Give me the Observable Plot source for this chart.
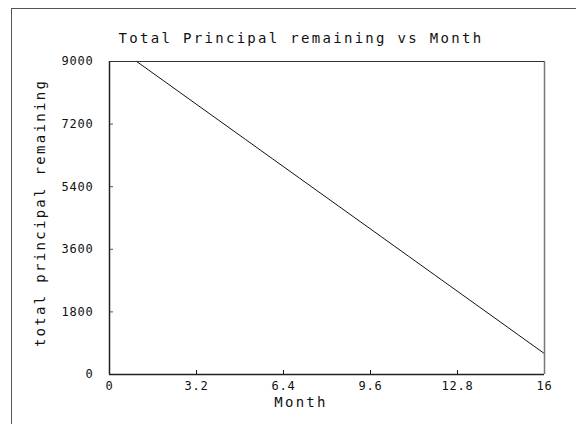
<!DOCTYPE html>
<html>
<head>
<meta charset="utf-8">
<script src="https://cdn.jsdelivr.net/npm/d3@7"></script>
<script src="https://cdn.jsdelivr.net/npm/@observablehq/plot@0.6"></script>
<style>
  html, body { margin: 0; padding: 0; background: #fff; }
  #wrap { position: relative; width: 576px; height: 424px; overflow: hidden; }
  #border { position: absolute; left: 11px; top: 8px; right: -2px; bottom: -2px;
            border-left: 1px solid #555; border-top: 1px solid #555; pointer-events: none; }
</style>
</head>
<body>
<div id="wrap"><div id="border"></div></div>
<script>
const months = [1, 2, 3, 4, 5, 6, 7, 8, 9, 10, 11, 12, 13, 14, 15, 16];
const principal = [9000, 8440, 7880, 7320, 6760, 6200, 5640, 5080, 4520, 3960, 3400, 2840, 2280, 1720, 1160, 600];
const xTicks = [0, 3.2, 6.4, 9.6, 12.8, 16];
const xTickLabels = ["0", "3.2", "6.4", "9.6", "12.8", "16"];
const yTicks = [0, 1800, 3600, 5400, 7200, 9000];
const yTickLabels = ["0", "1800", "3600", "5400", "7200", "9000"];
const title = "Total Principal remaining vs Month";
const xLabel = "Month";
const yLabel = "total principal remaining";

const data = months.map((m, i) => ({month: m, value: principal[i]}));
const xDomain = [0, 16];
const yDomain = [0, 9000];

const W = 576, H = 424;
const mL = 109, mR = 32, mT = 61, mB = 50;
const plotW = W - mL - mR, plotH = H - mT - mB;
const font = "DejaVu Sans Mono";

const chart = Plot.plot({
  width: W, height: H,
  marginLeft: mL, marginRight: mR, marginTop: mT, marginBottom: mB,
  style: {fontFamily: font, background: "transparent", color: "#111"},
  x: {domain: xDomain},
  y: {domain: yDomain},
  marks: [
    Plot.axisX({ticks: xTicks, tickSize: 0, tickPadding: 7, label: null,
      tickFormat: d => xTickLabels[xTicks.indexOf(d)], fontSize: 12}),
    Plot.axisY({ticks: yTicks, tickSize: 0, tickPadding: 16, label: null,
      tickFormat: d => yTickLabels[yTicks.indexOf(d)], fontSize: 12}),
    Plot.tickX(xTicks, {x: d => d, insetTop: plotH - 4, stroke: "#111"}),
    Plot.tickY(yTicks, {y: d => d, insetRight: plotW - 4, stroke: "#555"}),
    Plot.line(data, {x: "month", y: "value", stroke: "#111", strokeWidth: 1}),
    Plot.ruleX([xDomain[0]], {stroke: "#222", strokeWidth: 1.5}),
    Plot.ruleX([xDomain[1]], {stroke: "#777", strokeWidth: 1.5}),
    Plot.ruleY([yDomain[0]], {stroke: "#222", strokeWidth: 1.5}),
    Plot.ruleY([yDomain[1]], {stroke: "#333", strokeWidth: 1.2}),
    Plot.text([title], {text: d => d, frameAnchor: "top", dy: -23, dx: -26,
      lineAnchor: "middle", textAnchor: "middle",
      fontSize: 14, fill: "#111"}),
    Plot.text([xLabel], {text: d => d, frameAnchor: "bottom", dy: 28, dx: -26,
      lineAnchor: "middle", textAnchor: "middle",
      fontSize: 14, fill: "#111"}),
    Plot.text([yLabel], {text: d => d, frameAnchor: "left", dx: -69, dy: -5, rotate: -90,
      lineAnchor: "middle", textAnchor: "middle",
      fontSize: 14, fill: "#111"})
  ]
});

const svg = d3.select(chart);
const big = new Set([title, xLabel, yLabel]);
const small = new Set([...xTickLabels, ...yTickLabels]);
svg.selectAll("text").each(function() {
  const t = this.textContent;
  if (big.has(t)) {
    this.setAttribute("letter-spacing", "2.3");
    this.style.letterSpacing = "2.3px";
  } else if (small.has(t)) {
    this.setAttribute("letter-spacing", "0.8");
    this.style.letterSpacing = "0.8px";
  }
});
chart.style.position = "absolute";
chart.style.left = "0";
chart.style.top = "0";
document.getElementById("wrap").prepend(chart);
</script>
</body>
</html>
